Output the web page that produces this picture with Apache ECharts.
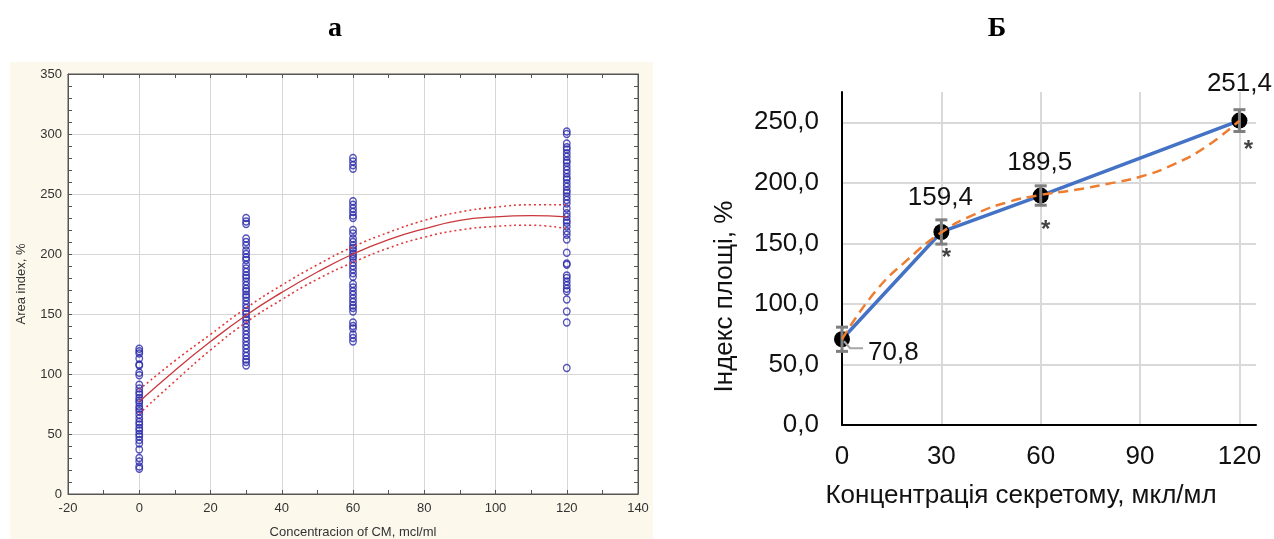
<!DOCTYPE html>
<html><head><meta charset="utf-8">
<script src="https://cdn.jsdelivr.net/npm/echarts@6/dist/echarts.min.js"></script>
<style>html,body{margin:0;padding:0;background:#fff}#c{width:1274px;height:539px}</style>
</head><body><div id="c"></div>
<script>
// ---------- Panel "а" (left) ----------
const leftX = [0, 30, 60, 120];
const leftScatter0 = [121,119,117,113,108,107,101,99,91,88,85,83,80,78,76,73,71,69,66,63,60,58,55,53,50,48,45,42,37,30,27,23,21];
const leftScatter30 = [230,227,225,213,210,207,203,200,197,195,191,188,185,182,180,177,174,171,169,166,164,161,158,155,152,150,147,145,142,139,136,133,130,127,124,121,118,115,112,110,107];
const leftScatter60 = [280,277,274,271,244,241,238,235,232,230,220,217,213,210,207,205,203,200,198,196,193,190,187,184,181,175,172,169,166,163,160,157,155,152,143,140,138,133,130,127];
const leftScatter120 = [302,300,292,289,287,284,281,278,276,273,270,267,264,262,259,256,253,251,248,245,242,238,234,231,228,226,223,219,216,212,201,192,191,182,180,177,174,171,169,162,152,143,105];
const fitX = [0,10,20,30,40,50,60,70,80,90,100,110,120];
const fitMid = [77,103,127,149,168,185,200,212,221,228,231,232,231];
const fitUpper = [87,111,133,155,174,191,206,218,228,235,239,241,241];
const fitLower = [67,94,120,143,162,179,193,205,214,220,223,224,221];

// ---------- Panel "Б" (right) ----------
const rightX = [0, 30, 60, 120];
const rightY = [70.8, 159.4, 189.5, 251.4];
const rightErr = [10, 10, 8, 9];
const trendX = [0,10,20,30,40,50,60,70,80,90,100,110,120];
const trendY = [70.8,110,137,159,174,184,190,194,199,205,215,230,251.4];
const starIdx = [1, 2, 3];

const titleA = 'а', titleB = 'Б';
const leftXName = 'Concentracion of CM, mcl/ml';
const leftYName = 'Area index, %';
const rightXName = 'Концентрація секретому, мкл/мл';
const rightYName = 'Індекс площі, %';

const scatterData = [];
[leftScatter0, leftScatter30, leftScatter60, leftScatter120].forEach((arr, i) => {
  arr.forEach(v => scatterData.push([leftX[i], v]));
});
const zip = (xs, ys) => xs.map((x, i) => [x, ys[i]]);

const F = 'Liberation Sans, Arial, sans-serif';
const fmtComma = v => v.toFixed(1).replace('.', ',');

const chart = echarts.init(document.getElementById('c'), null, {renderer: 'canvas'});

const tickStyle = {color: '#555'};
const leftAxisLine = {show: true, onZero: false, lineStyle: {color: '#555', width: 1}};
const leftTick = {show: true, inside: true, length: 4, lineStyle: tickStyle};

const labelOffsets = [[18, 14], [-1, -13], [-1, -12], [0, -16]];
const starOffsets = [[0, 0], [5, 26], [5, 35], [9, 30]];

chart.setOption({
  animation: false,
  backgroundColor: '#ffffff',
  graphic: [{
    type: 'rect', left: 10, top: 62, z: -10,
    shape: {width: 643, height: 477},
    style: {fill: '#fdf8ec'}
  }],
  title: [
    {text: titleA, left: 330, top: 10, textAlign: 'center',
     textStyle: {fontFamily: 'Liberation Serif, DejaVu Serif, serif', fontWeight: 'bold', fontSize: 28, color: '#000'}},
    {text: titleB, left: 992, top: 10, textAlign: 'center',
     textStyle: {fontFamily: 'Liberation Serif, DejaVu Serif, serif', fontWeight: 'bold', fontSize: 28, color: '#000'}}
  ],
  grid: [
    {left: 68, right: 636, top: 74, bottom: 45, show: true, backgroundColor: '#ffffff', borderColor: '#555', borderWidth: 1,
     containLabel: false, outerBoundsMode: 'none'},
    {left: 842, right: 18, top: 92, bottom: 114, containLabel: false, outerBoundsMode: 'none'}
  ],
  xAxis: [
    {gridIndex: 0, type: 'value', min: -20, max: 140, interval: 20, position: 'bottom',
      name: leftXName, nameLocation: 'middle', nameGap: 32,
      nameTextStyle: {fontFamily: F, fontSize: 13, color: '#333'},
      axisLine: leftAxisLine, axisTick: leftTick,
      minorTick: {show: true, splitNumber: 2, length: 4, lineStyle: tickStyle},
      axisLabel: {fontFamily: F, fontSize: 13, color: '#333', margin: 8},
      splitLine: {show: true, lineStyle: {color: '#d6d6d6', width: 1}}},
    {gridIndex: 0, type: 'value', min: -20, max: 140, interval: 20, position: 'top',
      axisLine: leftAxisLine, axisTick: leftTick,
      minorTick: {show: true, splitNumber: 2, length: 4, lineStyle: tickStyle},
      axisLabel: {show: false}, splitLine: {show: false}},
    {gridIndex: 1, type: 'value', min: 0, max: 125, interval: 30,
      name: rightXName, nameLocation: 'middle', nameGap: 58,
      nameTextStyle: {fontFamily: F, fontSize: 26, color: '#111', padding: [0, 56, 0, 0]},
      axisLine: {show: true, onZero: false, lineStyle: {color: '#000', width: 2}},
      axisTick: {show: false},
      axisLabel: {fontFamily: F, fontSize: 26, color: '#111', margin: 19, showMaxLabel: false},
      splitLine: {show: true, showMinLine: false, showMaxLine: false, lineStyle: {color: '#d9d9d9', width: 2}}}
  ],
  yAxis: [
    {gridIndex: 0, type: 'value', min: 0, max: 350, interval: 50, position: 'left',
      name: leftYName, nameLocation: 'middle', nameGap: 40,
      nameTextStyle: {fontFamily: F, fontSize: 13, color: '#333'},
      axisLine: leftAxisLine, axisTick: leftTick,
      minorTick: {show: true, splitNumber: 5, length: 4, lineStyle: tickStyle},
      axisLabel: {fontFamily: F, fontSize: 13, color: '#333', margin: 6},
      splitLine: {show: true, lineStyle: {color: '#d6d6d6', width: 1}}},
    {gridIndex: 0, type: 'value', min: 0, max: 350, interval: 50, position: 'right',
      axisLine: leftAxisLine, axisTick: leftTick,
      minorTick: {show: true, splitNumber: 5, length: 4, lineStyle: tickStyle},
      axisLabel: {show: false}, splitLine: {show: false}},
    {gridIndex: 1, type: 'value', min: 0, max: 275, interval: 50,
      name: rightYName, nameLocation: 'middle', nameGap: 104,
      nameTextStyle: {fontFamily: F, fontSize: 26, color: '#111', padding: [0, 76, 0, 0]},
      axisLine: {show: true, onZero: false, lineStyle: {color: '#000', width: 2}},
      axisTick: {show: false},
      axisLabel: {fontFamily: F, fontSize: 26, color: '#111', margin: 23, showMaxLabel: false, formatter: fmtComma},
      splitLine: {show: true, showMinLine: false, showMaxLine: false, lineStyle: {color: '#d9d9d9', width: 2}}}
  ],
  series: [
    {type: 'line', xAxisIndex: 0, yAxisIndex: 0, data: zip(fitX, fitUpper), smooth: true, symbol: 'none',
      lineStyle: {color: '#e03a3a', width: 1.6, type: [2, 3]}, z: 3},
    {type: 'line', xAxisIndex: 0, yAxisIndex: 0, data: zip(fitX, fitLower), smooth: true, symbol: 'none',
      lineStyle: {color: '#e03a3a', width: 1.6, type: [2, 3]}, z: 3},
    {type: 'line', xAxisIndex: 0, yAxisIndex: 0, data: zip(fitX, fitMid), smooth: true, symbol: 'none',
      lineStyle: {color: '#c8383c', width: 1.3}, z: 3},
    {type: 'scatter', xAxisIndex: 0, yAxisIndex: 0, data: scatterData, symbol: 'circle', symbolSize: [6.5, 7],
      itemStyle: {color: 'rgba(0,0,0,0)', borderColor: '#2828aa', borderWidth: 1.4}, z: 2},
    {type: 'line', xAxisIndex: 2, yAxisIndex: 2,
      data: rightX.map((x, i) => ({value: [x, rightY[i]],
        label: {position: i === 0 ? 'right' : 'top', distance: 0, offset: labelOffsets[i]}})),
      symbol: 'circle', symbolSize: 16, showAllSymbol: true,
      itemStyle: {color: '#000'},
      lineStyle: {color: '#4472c4', width: 3.5},
      label: {show: true, fontFamily: F, fontSize: 26, color: '#111', formatter: p => fmtComma(p.value[1])},
      z: 4},
    {type: 'custom', xAxisIndex: 2, yAxisIndex: 2,
      data: rightX.map((x, i) => [x, rightY[i] - rightErr[i], rightY[i] + rightErr[i]]),
      renderItem: (params, api) => {
        const lo = api.coord([api.value(0), api.value(1)]);
        const hi = api.coord([api.value(0), api.value(2)]);
        const w = 6;
        const st = {stroke: '#7f7f7f', lineWidth: 3};
        return {type: 'group', children: [
          {type: 'line', shape: {x1: lo[0], y1: lo[1], x2: hi[0], y2: hi[1]}, style: st},
          {type: 'line', shape: {x1: lo[0] - w, y1: lo[1], x2: lo[0] + w, y2: lo[1]}, style: st},
          {type: 'line', shape: {x1: hi[0] - w, y1: hi[1], x2: hi[0] + w, y2: hi[1]}, style: st}
        ]};
      }, z: 5},
    {type: 'custom', xAxisIndex: 2, yAxisIndex: 2, data: [[rightX[0], rightY[0]]],
      renderItem: (params, api) => {
        const p = api.coord([api.value(0), api.value(1)]);
        return {type: 'polyline', shape: {points: [[p[0] + 2, p[1] + 2], [p[0] + 8, p[1] + 9], [p[0] + 21, p[1] + 9]]},
          style: {stroke: '#a6a6a6', lineWidth: 2, fill: 'none'}};
      }, z: 5},
    {type: 'line', xAxisIndex: 2, yAxisIndex: 2, data: zip(trendX, trendY), smooth: 0.5, symbol: 'none',
      lineStyle: {color: '#ed7d31', width: 2.5, type: [10, 6]}, z: 6},
    {type: 'scatter', xAxisIndex: 2, yAxisIndex: 2,
      data: starIdx.map(i => ({value: [rightX[i], rightY[i]], label: {offset: starOffsets[i]}})),
      symbolSize: 0, silent: true,
      label: {show: true, position: 'inside', formatter: '*', fontFamily: F, fontSize: 24, fontWeight: 'bold', color: '#111'},
      z: 7}
  ]
});
</script>
</body></html>
